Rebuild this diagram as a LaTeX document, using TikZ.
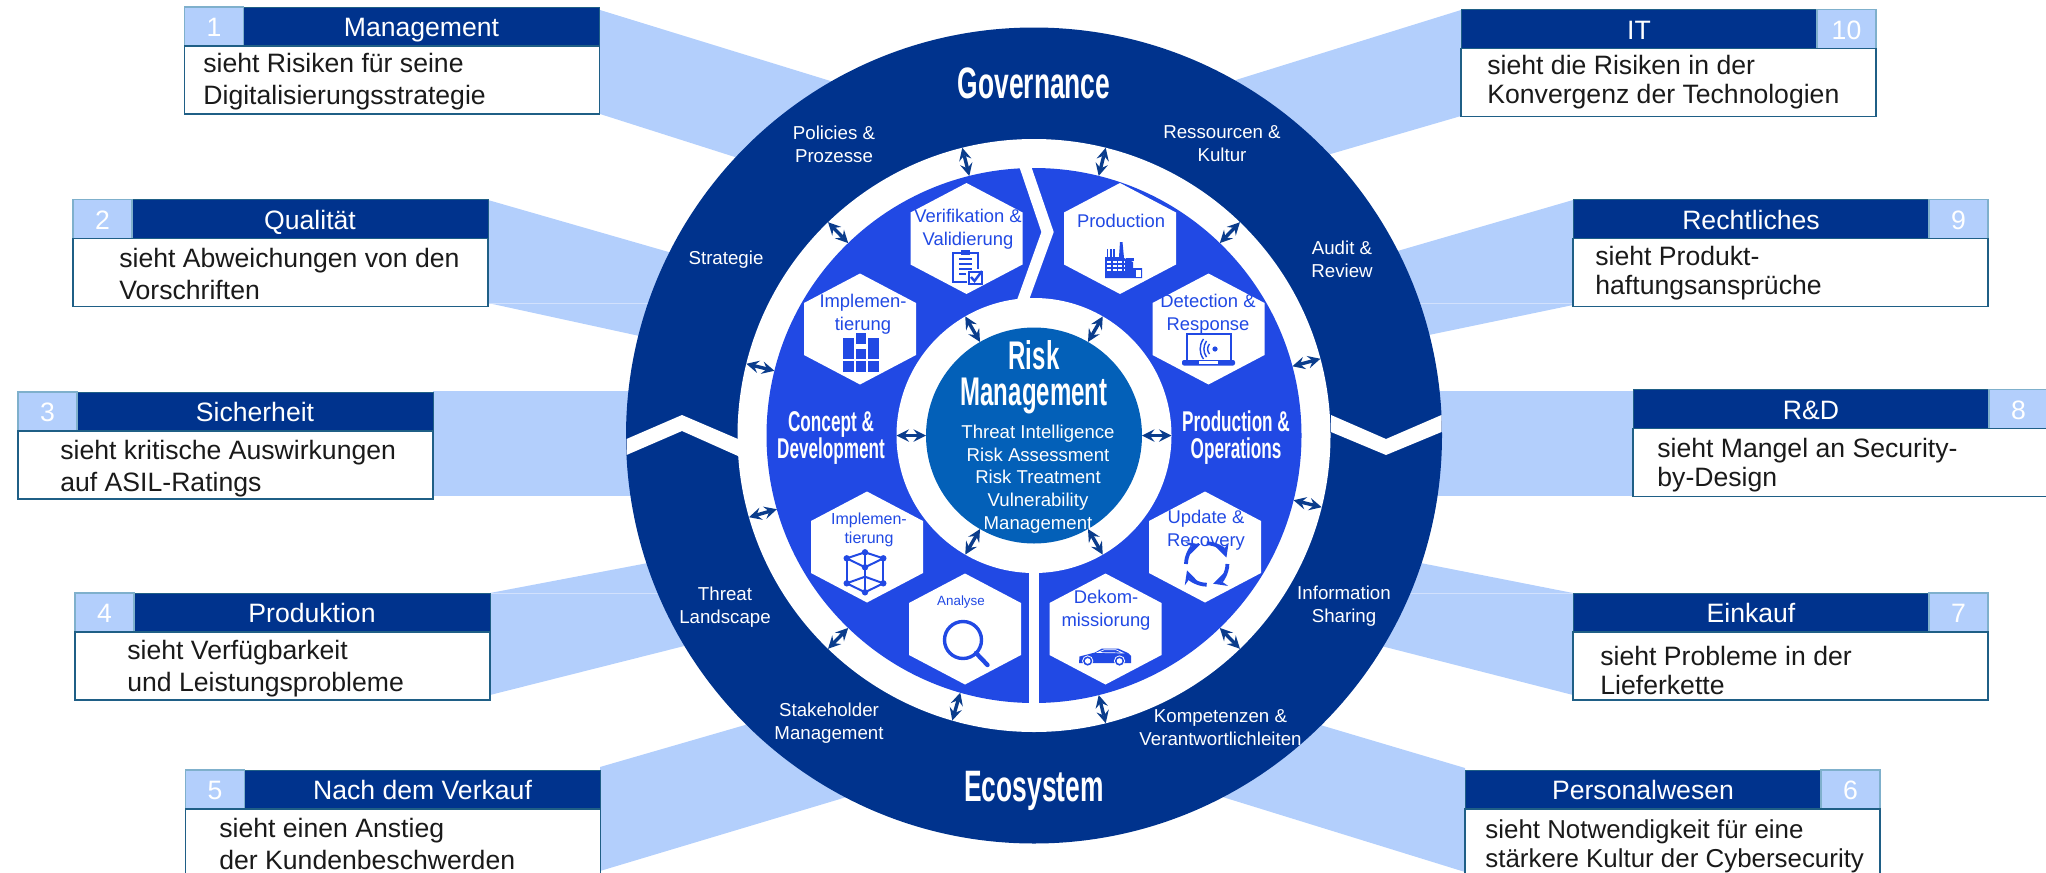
\documentclass[tikz,border=0pt]{standalone}
\usepackage{fontspec}
\setmainfont{Liberation Sans}
\newfontfamily\titlefont[FakeStretch=0.6]{Liberation Sans}
\usepackage{tikz}
\usepackage{xcolor}
\usetikzlibrary{positioning}
\definecolor{navy}{HTML}{00338D}
\definecolor{midblue}{HTML}{2149E4}
\definecolor{coreblue}{HTML}{0360B8}
\definecolor{paleblue}{HTML}{B3CFFC}
\definecolor{seamblue}{HTML}{D2E1FD}
\definecolor{arrowblue}{HTML}{0A3C8C}
\definecolor{boxedge}{HTML}{1F5F86}
\definecolor{numedge}{HTML}{7FB0CC}
\definecolor{bodyink}{HTML}{1A1A1A}

\begin{document}
\begin{tikzpicture}[x=0.5pt, y=-0.5pt,
    disc/.style={circle, inner sep=0pt, outer sep=0pt, minimum size=#1},
    band/.style={fill=paleblue},
    seam/.style={draw=seamblue, line width=0.4pt},
    head/.style={fill=navy, draw=boxedge, line width=0.5pt, text=white, inner sep=0pt, outer sep=0pt, minimum width=178pt, minimum height=19.5pt, text height=11.5pt, text depth=1.5pt, font=\fontsize{13.3}{15}\selectfont},
    num/.style={fill=paleblue, draw=numedge, line width=0.7pt, text=white, inner sep=0pt, outer sep=0pt, minimum width=29.5pt, minimum height=19.5pt, text height=11.5pt, text depth=1.5pt, font=\fontsize{13.3}{15}\selectfont},
    bodybox/.style={fill=white, draw=boxedge, line width=0.7pt, inner sep=0pt, outer sep=0pt, minimum width=207.5pt, minimum height=34pt},
    bodytext/.style={anchor=west, align=left, inner sep=0pt, text=bodyink, font=\fontsize{13.3}{16}\selectfont},
    bodytextr/.style={anchor=west, align=left, inner sep=0pt, text=bodyink, font=\fontsize{13.3}{14.5}\selectfont},
    ringlabel/.style={align=center, inner sep=0pt, text=white, font=\fontsize{9.35}{11.5}\selectfont},
    hexlabel/.style={align=center, inner sep=0pt, text=midblue, font=\fontsize{9.2}{11.4}\selectfont},
    bigtitle/.style={align=center, inner sep=0pt, text=white, font=\titlefont\bfseries\fontsize{22}{24}\selectfont},
    phasetitle/.style={align=center, inner sep=0pt, text=white, font=\titlefont\bfseries\fontsize{14.3}{13.5}\selectfont},
    hexa/.pic={\fill[white] (0,-55.5) -- (56,-26) -- (56,26) -- (0,55.5) -- (-56,26) -- (-56,-26) -- cycle;},
    iconline/.style={draw=midblue, line width=1pt},
    iconfill/.style={fill=midblue},
    twoway/.style={<->, >=stealth, draw=arrowblue, line width=1.7pt}]
    \useasboundingbox (0,0) rectangle (2046,873);

    \fill[band] (600,10) -- (850,87) -- (760,165) -- (600,114) -- cycle;
    \fill[band] (488,200) -- (700,261) -- (690,347) -- (488,303) -- cycle;
    \fill[band] (433,391) rectangle (660,496);
    \fill[band] (490,593) -- (690,555) -- (720,637) -- (490,695) -- cycle;
    \fill[band] (600,767) -- (790,712) -- (870,790) -- (600,871) -- cycle;
    \fill[band] (1461,10) -- (1210,88) -- (1310,160) -- (1461,116) -- cycle;
    \fill[band] (1573,200) -- (1370,259) -- (1400,341) -- (1573,305) -- cycle;
    \fill[band] (1400,391) rectangle (1633,496);
    \fill[band] (1573,593) -- (1380,555) -- (1350,638) -- (1573,695) -- cycle;
    \fill[band] (1465,768) -- (1290,716) -- (1200,790) -- (1465,872) -- cycle;
    \draw[seam] (488,303) -- (660,303);
    \draw[seam] (1410,303) -- (1573,303);
    \draw[seam] (490,593) -- (660,593);
    \draw[seam] (1405,593) -- (1573,593);

    \node[disc=408pt, fill=navy] (ringouter) at (1034,435.5) {};
    \fill[white] (626.5,439) -- (682,415) -- (738,439) -- (738,456) -- (682,431) -- (626.5,455) -- cycle;
    \fill[white] (1331,415) -- (1386,439) -- (1441.5,415) -- (1441.5,432) -- (1386,455) -- (1331,432) -- cycle;
    \node[disc=296.5pt, fill=white] (ringgap) at (1034,435.5) {};
    \node[disc=267.5pt, fill=midblue] (ringblue) at (1034,435.5) {};
    \fill[white] (1017,160) -- (1029,160) -- (1053.7,232) -- (1029,300) -- (1017,300) -- (1041.4,232) -- cycle;
    \fill[white] (1029,570) rectangle (1039.4,710);
    \node[disc=137.5pt, fill=white] (coregap) at (1034,435.5) {};
    \node[disc=108pt, fill=coreblue] (core) at (1034,435.5) {};

    \pic at (966.5,238.5) {hexa};
    \pic at (1120,238.5) {hexa};
    \pic at (860,329) {hexa};
    \pic at (1208.5,329) {hexa};
    \pic at (867,547) {hexa};
    \pic at (1205,547) {hexa};
    \pic at (965,629) {hexa};
    \pic at (1105.5,629) {hexa};

    \draw[iconline] (978,269) -- (978,253) -- (953,253) -- (953,281.5) -- (967,281.5);
    \fill[iconfill] (961,250) rectangle (970,255);
    \draw[iconline] (959,259) -- (972,259) (959,264) -- (972,264) (959,269) -- (972,269) (959,274) -- (966,274);
    \draw[iconline] (968.5,272) rectangle (982,284);
    \draw[iconline, line width=1.2pt] (971,277) -- (974.5,281) -- (982,271);

    \fill[iconfill] (1105,278) -- (1105,257) -- (1119,257) -- (1120,242) -- (1122.5,242) -- (1124,258) -- (1133,262) -- (1133,268) -- (1142,268) -- (1142,278) -- cycle;
    \draw[iconline, line width=0.8pt] (1107.5,257) -- (1107.5,249) (1110.8,257) -- (1110.8,249) (1114.2,257) -- (1114.2,249);
    \fill[iconfill] (1126,258) rectangle (1134,261);
    \draw[white, line width=1.1pt, dash pattern=on 2pt off 0.8pt] (1107,262) -- (1124,262) (1107,266) -- (1124,266) (1107,270) -- (1124,270);
    \fill[white] (1135.5,270) rectangle (1141,277);

    \fill[iconfill] (843,337.5) rectangle (854,359);
    \fill[iconfill] (843,361) rectangle (854,372);
    \fill[iconfill] (855.5,333) rectangle (866,344);
    \fill[iconfill] (855.5,349) rectangle (866,359);
    \fill[iconfill] (855.5,361) rectangle (866,372);
    \fill[iconfill] (868,337.5) rectangle (879,359);
    \fill[iconfill] (868,361) rectangle (879,372);

    \draw[iconline] (1186.5,360) -- (1186.5,333.5) -- (1230.5,333.5) -- (1230.5,360);
    \fill[iconfill, rounded corners=1pt] (1182,360) rectangle (1235,365.5);
    \fill[white] (1199,361) rectangle (1218,363.5);
    \fill[iconfill] (1215,349) circle [radius=2.6];
    \draw[iconline, line width=0.7pt] (1209.5,344) .. controls (1207,347) and (1207,351) .. (1209.5,354);
    \draw[iconline, line width=0.7pt] (1206.5,341) .. controls (1203,346) and (1203,352) .. (1206.5,357);
    \draw[iconline, line width=0.7pt] (1203.5,339) .. controls (1199,345) and (1199,353) .. (1203.5,359);

    \draw[iconline] (846.7,558.3) -- (865,552.3) -- (883.3,558.3) -- (865,567.3) -- cycle;
    \draw[iconline] (846.7,583.3) -- (865,576.7) -- (883.3,583.3) -- (865,592.3) -- cycle;
    \draw[iconline] (846.7,558.3) -- (846.7,583.3) (883.3,558.3) -- (883.3,583.3) (865,552.3) -- (865,576.7) (865,567.3) -- (865,592.3);
    \fill[iconfill] (846.7,558.3) circle [radius=3.2] (865,552.3) circle [radius=3.2] (883.3,558.3) circle [radius=3.2] (865,567.3) circle [radius=3.2] (846.7,583.3) circle [radius=3.2] (883.3,583.3) circle [radius=3.2] (865,592.3) circle [radius=3.2];

    \draw[iconline, line width=1.7pt] (963,640) circle [radius=18.5];
    \draw[iconline, line width=2.2pt, line cap=round] (976,653) -- (987.5,665);

    \draw[iconline, line width=1.9pt, ->, >=stealth] (1227.4,564) arc [start angle=0, end angle=72, radius=20.7];
    \draw[iconline, line width=1.9pt, ->, >=stealth] (1206.7,584.7) arc [start angle=90, end angle=162, radius=20.7];
    \draw[iconline, line width=1.9pt, ->, >=stealth] (1186,564) arc [start angle=180, end angle=252, radius=20.7];
    \draw[iconline, line width=1.9pt, ->, >=stealth] (1206.7,543.3) arc [start angle=270, end angle=342, radius=20.7];

    \fill[iconfill] (1079,663) -- (1079.5,656.5) -- (1095,652.5) -- (1102,648.5) -- (1118,648.5) -- (1128,653) -- (1131,656) -- (1131,663) -- cycle;
    \draw[white, line width=0.35pt] (1097.5,652.5) -- (1104,649.8) -- (1116,649.8) -- (1123,653) -- cycle;
    \fill[white] (1087.7,661) circle [radius=5.6] (1119.5,661) circle [radius=5.6];
    \fill[iconfill] (1087.7,661) circle [radius=4.6] (1119.5,661) circle [radius=4.6];
    \fill[white] (1087.7,661) circle [radius=2.8] (1119.5,661) circle [radius=2.8];

    \draw[twoway] (ringblue.104) -- (ringgap.104);
    \draw[twoway] (ringblue.76) -- (ringgap.76);
    \draw[twoway] (ringblue.134) -- (ringgap.134);
    \draw[twoway] (ringblue.46) -- (ringgap.46);
    \draw[twoway] (ringblue.166) -- (ringgap.166);
    \draw[twoway] (ringblue.15) -- (ringgap.15);
    \draw[twoway] (ringblue.196) -- (ringgap.196);
    \draw[twoway] (ringblue.-14) -- (ringgap.-14);
    \draw[twoway] (ringblue.226) -- (ringgap.226);
    \draw[twoway] (ringblue.-46) -- (ringgap.-46);
    \draw[twoway] (ringblue.254) -- (ringgap.254);
    \draw[twoway] (ringblue.-76) -- (ringgap.-76);
    \draw[twoway] (core.120) -- (coregap.120);
    \draw[twoway] (core.60) -- (coregap.60);
    \draw[twoway] (core.180) -- (coregap.180);
    \draw[twoway] (core.0) -- (coregap.0);
    \draw[twoway] (core.240) -- (coregap.240);
    \draw[twoway] (core.-60) -- (coregap.-60);

    \node[bigtitle] (governance) at (1034,83) {Governance};
    \node[bigtitle] (ecosystem) at (1034,791) {Ecosystem};
    \node[bigtitle, font=\titlefont\bfseries\fontsize{20}{18}\selectfont] (riskmgmt) at (1034,377) {Risk\\Management};
    \node[phasetitle] (concept) at (831,438) {Concept\,\&\\Development};
    \node[phasetitle] (operations) at (1236,438) {Production\,\&\\Operations};
    \node[ringlabel, font=\fontsize{9.3}{11.3}\selectfont, text=white] (coretext) at (1038,479) {Threat Intelligence\\Risk Assessment\\Risk Treatment\\Vulnerability\\Management};

    \node[ringlabel] (policies) at (834,144) {Policies \&\\Prozesse};
    \node[ringlabel] (ressourcen) at (1222,144) {Ressourcen \&\\Kultur};
    \node[ringlabel] (strategie) at (726,260) {Strategie};
    \node[ringlabel] (audit) at (1342,259.5) {Audit \&\\Review};
    \node[ringlabel] (threat) at (725,607) {Threat\\Landscape};
    \node[ringlabel] (information) at (1344,606.5) {Information\\Sharing};
    \node[ringlabel] (stakeholder) at (829,723) {Stakeholder\\Management};
    \node[ringlabel] (kompetenzen) at (1220.5,727.5) {Kompetenzen \&\\Verantwortlichleiten};

    \node[hexlabel] (verifikation) at (968,229.5) {Verifikation \&\\Validierung};
    \node[hexlabel] (production) at (1121,221) {Production};
    \node[hexlabel] (impltop) at (863,314) {Implemen-\\tierung};
    \node[hexlabel] (detection) at (1208,314.5) {Detection \&\\Response};
    \node[hexlabel, font=\fontsize{8}{9.6}\selectfont] (implbottom) at (869,530) {Implemen-\\tierung};
    \node[hexlabel, font=\fontsize{6.7}{8}\selectfont] (analyse) at (961,602) {Analyse};
    \node[hexlabel] (update) at (1206,530.5) {Update \&\\Recovery};
    \node[hexlabel] (dekom) at (1106,610.5) {Dekom-\\missiorung};

    \node[head] (h1) at (421.5,26.5) {Management};
    \node[num, left=0pt of h1] (n1) {1};
    \node[bodybox, below left=0pt and 0pt of h1.south east] (b1) {};
    \node[bodytext] (t1) at (203,82) {sieht Risiken für seine\\Digitalisierungsstrategie};

    \node[head] (h2) at (310,219) {Qualität};
    \node[num, left=0pt of h2] (n2) {2};
    \node[bodybox, below left=0pt and 0pt of h2.south east] (b2) {};
    \node[bodytext] (t2) at (119,274) {sieht Abweichungen von den\\Vorschriften};

    \node[head] (h3) at (255,411.5) {Sicherheit};
    \node[num, left=0pt of h3] (n3) {3};
    \node[bodybox, below left=0pt and 0pt of h3.south east] (b3) {};
    \node[bodytext] (t3) at (60,469) {sieht kritische Auswirkungen\\auf ASIL-Ratings};

    \node[head] (h4) at (312,612.5) {Produktion};
    \node[num, left=0pt of h4] (n4) {4};
    \node[bodybox, below left=0pt and 0pt of h4.south east] (b4) {};
    \node[bodytext] (t4) at (127,668.5) {sieht Verfügbarkeit\\und Leistungsprobleme};

    \node[head] (h5) at (422.5,789.5) {Nach dem Verkauf};
    \node[num, left=0pt of h5] (n5) {5};
    \node[bodybox, below left=0pt and 0pt of h5.south east] (b5) {};
    \node[bodytext] (t5) at (219,844) {sieht einen Anstieg\\der Kundenbeschwerden};

    \node[head] (h10) at (1639,29) {IT};
    \node[num, right=0pt of h10] (n10) {10};
    \node[bodybox, below right=0pt and 0pt of h10.south west] (b10) {};
    \node[bodytextr] (t10) at (1487,82) {sieht die Risiken in der\\Konvergenz der Technologien};

    \node[head] (h9) at (1751,219) {Rechtliches};
    \node[num, right=0pt of h9] (n9) {9};
    \node[bodybox, below right=0pt and 0pt of h9.south west] (b9) {};
    \node[bodytextr] (t9) at (1595,273) {sieht Produkt-\\haftungsansprüche};

    \node[head] (h8) at (1811,409) {R\&D};
    \node[num, right=0pt of h8] (n8) {8};
    \node[bodybox, below right=0pt and 0pt of h8.south west] (b8) {};
    \node[bodytextr] (t8) at (1657,465) {sieht Mangel an Security-\\by-Design};

    \node[head] (h7) at (1751,612.5) {Einkauf};
    \node[num, right=0pt of h7] (n7) {7};
    \node[bodybox, below right=0pt and 0pt of h7.south west] (b7) {};
    \node[bodytextr] (t7) at (1600,670) {sieht Probleme in der\\Lieferkette};

    \node[head] (h6) at (1643,789.5) {Personalwesen};
    \node[num, right=0pt of h6] (n6) {6};
    \node[bodybox, below right=0pt and 0pt of h6.south west] (b6) {};
    \node[bodytextr, font=\fontsize{12.95}{14.5}\selectfont] (t6) at (1485,846.5) {sieht Notwendigkeit für eine\\stärkere Kultur der Cybersecurity};
\end{tikzpicture}
\end{document}
